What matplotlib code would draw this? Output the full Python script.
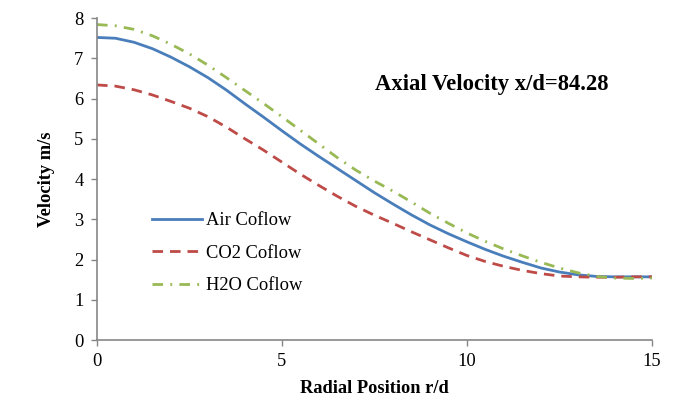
import matplotlib
matplotlib.use("Agg")
import matplotlib.pyplot as plt

# radial positions r/d
r = [0, 0.5, 1, 1.5, 2, 2.5, 3, 3.5, 4, 4.5, 5, 5.5, 6, 6.5, 7, 7.5,
     8, 8.5, 9, 9.5, 10, 10.5, 11, 11.5, 12, 12.5, 13, 13.5, 14, 14.5, 15]

air = [7.52, 7.50, 7.40, 7.24, 7.03, 6.79, 6.52, 6.21, 5.87, 5.54, 5.20,
       4.87, 4.56, 4.26, 3.96, 3.66, 3.38, 3.11, 2.86, 2.64, 2.44, 2.25,
       2.08, 1.93, 1.79, 1.69, 1.62, 1.58, 1.57, 1.57, 1.57]

co2 = [6.34, 6.31, 6.22, 6.09, 5.93, 5.76, 5.55, 5.29, 5.00, 4.72, 4.42,
       4.12, 3.84, 3.57, 3.32, 3.10, 2.90, 2.69, 2.49, 2.29, 2.10, 1.95,
       1.83, 1.73, 1.65, 1.59, 1.57, 1.56, 1.56, 1.57, 1.57]

h2o = [7.84, 7.81, 7.72, 7.56, 7.35, 7.11, 6.83, 6.52, 6.20, 5.88, 5.55,
       5.21, 4.87, 4.53, 4.22, 3.95, 3.70, 3.43, 3.15, 2.90, 2.66, 2.45,
       2.26, 2.09, 1.93, 1.79, 1.67, 1.58, 1.54, 1.53, 1.54]

x_ticks = [0, 5, 10, 15]
y_ticks = [0, 1, 2, 3, 4, 5, 6, 7, 8]

plt.rcParams["font.family"] = ["Liberation Serif", "DejaVu Serif"]

fig = plt.figure(figsize=(6.77, 4.03), dpi=100)
ax = fig.add_axes([0.1433, 0.1563, 0.8197, 0.7987])

ax.plot(r, air, color="#4A7EBB", linewidth=2, label="Air Coflow")
ax.plot(r, co2, color="#BE4B48", linewidth=2, dashes=(3.8, 2.5),
        label="CO2 Coflow")
ax.plot(r, h2o, color="#98B954", linewidth=2, dashes=(3.8, 2.6, 0.7, 2.6),
        label="H2O Coflow")

ax.set_xlim(0, 15)
ax.set_ylim(0, 8)
ax.set_xticks(x_ticks)
ax.set_yticks(y_ticks)

for side in ["top", "right"]:
    ax.spines[side].set_visible(False)
for side in ["left", "bottom"]:
    ax.spines[side].set_color("#868686")
    ax.spines[side].set_linewidth(1.2)

ax.tick_params(axis="both", direction="out", length=4.3, width=1,
               color="#868686", labelsize=13.3, labelcolor="black")
ax.tick_params(axis="x", pad=5)
ax.tick_params(axis="y", pad=5.5)

ax.set_xlabel("Radial Position r/d", fontsize=13.2, fontweight="bold", labelpad=7)
ax.set_ylabel("Velocity m/s", fontsize=13.3, fontweight="bold", labelpad=14)

ax.text(7.51, 6.36, "Axial Velocity x/d=84.28", fontsize=16.3,
        fontweight="bold", ha="left", va="center")

ax.legend(loc="upper left", bbox_to_anchor=(152 / 677, 1 - 212 / 403),
          bbox_transform=fig.transFigure, frameon=False, fontsize=13.3,
          borderaxespad=0, borderpad=0, handlelength=2.7,
          handletextpad=0.22, labelspacing=0.85)

plt.savefig("out.png", dpi=100)
